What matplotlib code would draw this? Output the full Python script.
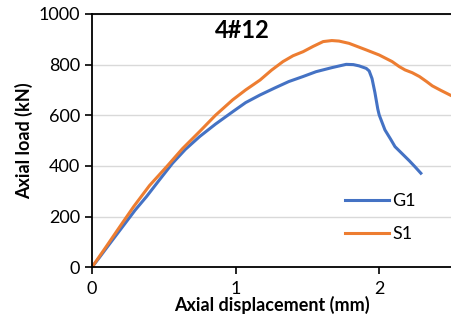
import matplotlib
matplotlib.use("Agg")
import matplotlib.pyplot as plt

# G1 curve
g1_disp = [0, 0.05, 0.10, 0.20, 0.30, 0.38, 0.47, 0.56, 0.65, 0.75, 0.86, 0.98, 1.07, 1.17,
           1.27, 1.37, 1.47, 1.56, 1.67, 1.77, 1.82, 1.86, 1.91, 1.93, 1.95, 1.97, 1.99, 2.00,
           2.04, 2.08, 2.11, 2.16, 2.21, 2.25, 2.29]
g1_load = [0, 37, 75, 150, 225, 279, 345, 410, 465, 516, 565, 614, 650, 680,
           707, 733, 753, 772, 788, 801, 800, 795, 785, 775, 745, 690, 625, 601,
           542, 505, 476, 448, 420, 396, 371]

# S1 curve
s1_disp = [0, 0.10, 0.20, 0.29, 0.40, 0.52, 0.63, 0.75, 0.86, 0.98, 1.07, 1.17, 1.25, 1.33,
           1.40, 1.47, 1.54, 1.61, 1.67, 1.72, 1.79, 1.85, 1.91, 2.00, 2.09, 2.14, 2.18,
           2.23, 2.28, 2.33, 2.37, 2.43, 2.50]
s1_load = [0, 82, 165, 239, 322, 397, 468, 536, 600, 661, 700, 739, 778, 812,
           835, 851, 872, 891, 895, 893, 884, 871, 858, 838, 812, 792, 779,
           768, 753, 733, 716, 698, 678]

plt.rcParams['font.family'] = ['Lato', 'DejaVu Sans']

fig = plt.figure(figsize=(4.51, 3.25), dpi=100)
ax = fig.add_axes([0.204, 0.178, 0.796, 0.779])

ax.plot(g1_disp, g1_load, color='#4472C4', lw=2.2, label='G1', solid_joinstyle='round')
ax.plot(s1_disp, s1_load, color='#ED7D31', lw=2.2, label='S1', solid_joinstyle='round')

ax.set_xlim(0, 2.5)
ax.set_ylim(0, 1000)
ax.set_xticks([0, 1, 2])
ax.set_yticks([0, 200, 400, 600, 800, 1000])
ax.grid(axis='y', color='#d9d9d9', lw=1)
ax.set_axisbelow(True)
ax.tick_params(labelsize=13, width=1.2, length=5, direction='out')
ax.tick_params(axis='x', pad=5)
for s in ['left', 'bottom', 'top']:
    ax.spines[s].set_linewidth(1.3)
    ax.spines[s].set_color('black')
ax.spines['right'].set_visible(False)

ax.set_xlabel('Axial displacement (mm)', fontsize=13, fontweight='bold', labelpad=-1)
ax.set_ylabel('Axial load (kN)', fontsize=13, fontweight='bold', labelpad=4)
ax.text(0.418, 0.935, '4#12', transform=ax.transAxes, fontsize=17, fontweight='bold',
        ha='center', va='center')

ax.legend(loc='center left', bbox_to_anchor=(0.66, 0.195), frameon=False, fontsize=13,
          handlelength=2.4, labelspacing=0.95, handletextpad=0.2)

plt.savefig("out.png", dpi=100)
